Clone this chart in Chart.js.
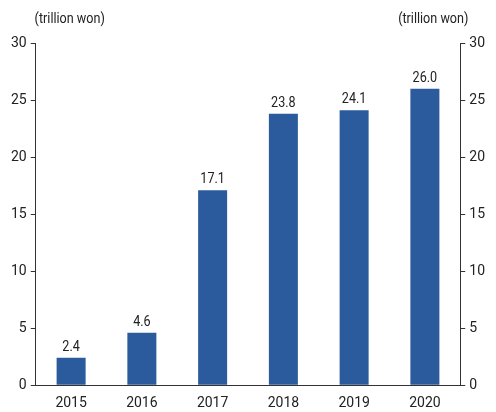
<!DOCTYPE html>
<html>
<head>
<meta charset="utf-8">
<script src="https://cdn.jsdelivr.net/npm/chart.js@4"></script>
<style>
  body { margin: 0; background: #fff; overflow: hidden; }
</style>
</head>
<body>
<canvas id="grafico" width="496" height="412"></canvas>
<script>
const years = ['2015', '2016', '2017', '2018', '2019', '2020'];
const amounts = [2.4, 4.6, 17.1, 23.8, 24.1, 26.0];
const unitLabel = '(trillion won)';

const FONT = 'Roboto, sans-serif';
const ink = '#222';
const axisCol = '#333';

// texto un poco estrecho como el original
function narrowText(c, txt, x, y) {
  c.save();
  c.translate(x, y);
  c.scale(0.84, 1);
  c.fillText(txt, 0, 0);
  c.restore();
}

// etiquetas de valores y titulos de unidad
const extras = {
  id: 'extras',
  afterDatasetsDraw(chart) {
    const c = chart.ctx;
    c.save();
    c.fillStyle = ink;
    c.font = '15px ' + FONT;
    c.textAlign = 'center';
    c.textBaseline = 'alphabetic';
    chart.getDatasetMeta(0).data.forEach((bar, i) => {
      narrowText(c, amounts[i].toFixed(1), bar.x, bar.y - 7);
    });
    const area = chart.chartArea;
    narrowText(c, unitLabel, area.left + 34, 23);
    narrowText(c, unitLabel, area.right - 27, 23);
    c.restore();
  }
};

new Chart(document.getElementById('grafico'), {
  type: 'bar',
  data: {
    labels: years,
    datasets: [{
      data: amounts,
      backgroundColor: '#2b5b9d',
      barPercentage: 0.41,
      categoryPercentage: 1,
      yAxisID: 'y'
    }]
  },
  options: {
    responsive: false,
    animation: false,
    layout: { padding: { top: 43, left: 7, right: 7, bottom: 0 } },
    plugins: { legend: { display: false }, tooltip: { enabled: false } },
    scales: {
      x: {
        grid: { display: false, drawTicks: true, tickLength: 10 },
        border: { display: true, color: axisCol, width: 1 },
        ticks: { color: ink, font: { family: FONT, size: 14 }, padding: 0 }
      },
      y: {
        position: 'left',
        min: 0, max: 30,
        ticks: { stepSize: 5, color: ink, font: { family: FONT, size: 14 }, padding: 4 },
        grid: { drawOnChartArea: false, drawTicks: true, tickLength: 5, color: axisCol },
        border: { display: true, color: axisCol }
      },
      y2: {
        position: 'right',
        min: 0, max: 30,
        ticks: { stepSize: 5, color: ink, font: { family: FONT, size: 14 }, padding: 4 },
        grid: { drawOnChartArea: false, drawTicks: true, tickLength: 5, color: axisCol },
        border: { display: true, color: axisCol }
      }
    }
  },
  plugins: [extras]
});
</script>
</body>
</html>
